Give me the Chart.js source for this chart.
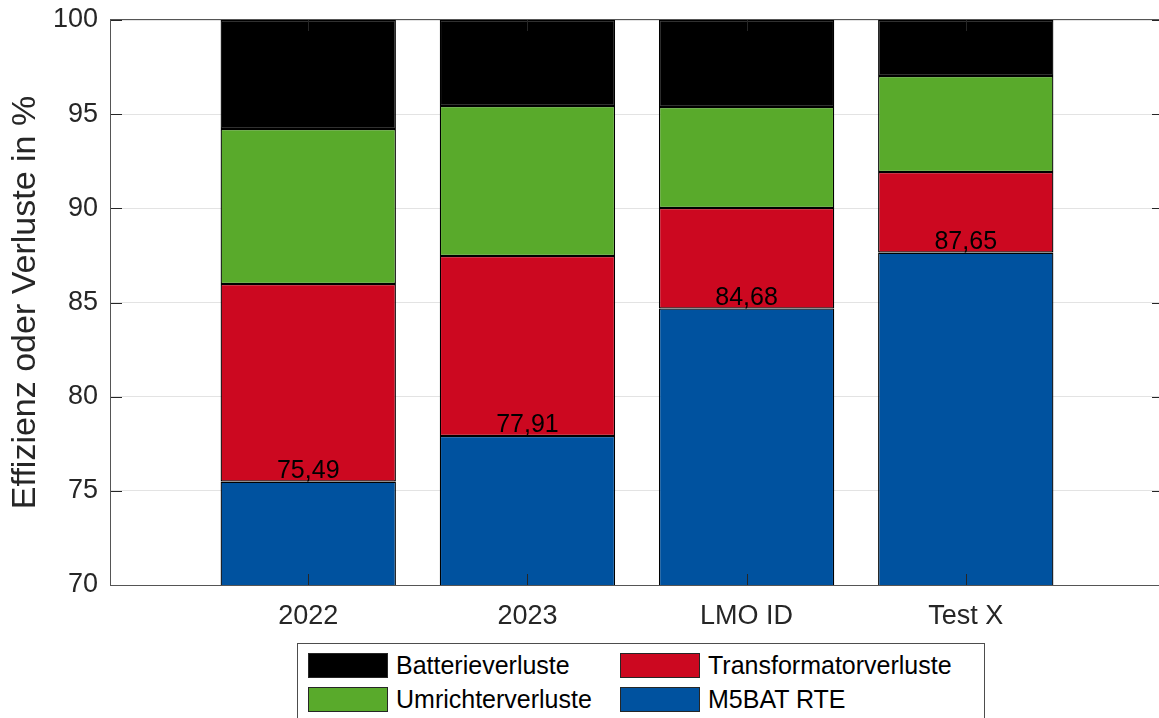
<!DOCTYPE html>
<html>
<head>
<meta charset="utf-8">
<script src="https://cdn.jsdelivr.net/npm/chart.js@4"></script>
<style>
    html, body { margin: 0; padding: 0; background: #fff; overflow: hidden; }
    #wrap { position: relative; width: 1175px; height: 718px; }
    #legend {
        position: absolute; left: 297px; top: 643px; width: 686px; height: 90px;
        border: 1px solid #4d4d4d; background: #fff;
        font-family: 'Liberation Sans', Arial, sans-serif; font-size: 25px; color: #000;
    }
    .item { position: absolute; display: flex; align-items: center; height: 27px; }
    .swatch { width: 78px; height: 23px; border: 1px solid #262626; margin-right: 8px; }
</style>
</head>
<body>
<div id="wrap">
    <canvas id="chart" width="1175" height="718"></canvas>
    <div id="legend"></div>
</div>
<script>
const categories = ['2022', '2023', 'LMO ID', 'Test X'];
const rte = [75.49, 77.91, 84.68, 87.65];
const transformator = [10.49, 9.56, 5.34, 4.28];
const umrichter = [8.23, 7.96, 5.36, 5.10];
const batterie = [5.79, 4.57, 4.62, 2.97];
const yTicks = [70, 75, 80, 85, 90, 95, 100];

const colors = {
    blue: '#00529f',
    red: '#cc0820',
    green: '#59aa2b',
    black: '#000000',
    axis: '#262626',
    grid: '#e3e3e3'
};

const font = "'Liberation Sans', Arial, sans-serif";

function points(arr) {
    return arr.map((v, i) => ({ x: i, y: v }));
}

const series = [
    { label: 'M5BAT RTE', data: rte, color: colors.blue },
    { label: 'Transformatorverluste', data: transformator, color: colors.red },
    { label: 'Umrichterverluste', data: umrichter, color: colors.green },
    { label: 'Batterieverluste', data: batterie, color: colors.black }
];

// MATLAB style box with inward ticks + value labels on the blue bars
const axesBox = {
    id: 'axesBox',
    afterDatasetsDraw(chart) {
        const { ctx, chartArea: a, scales: { x, y } } = chart;
        const tick = 11;
        ctx.save();

        // value labels
        ctx.fillStyle = '#000';
        ctx.font = '25px ' + font;
        ctx.textAlign = 'center';
        ctx.textBaseline = 'alphabetic';
        rte.forEach((v, i) => {
            ctx.fillText(v.toFixed(2).replace('.', ','), x.getPixelForValue(i), y.getPixelForValue(v) - 4);
        });

        ctx.strokeStyle = colors.axis;
        ctx.lineWidth = 1;
        ctx.beginPath();
        yTicks.forEach(t => {
            const py = Math.round(y.getPixelForValue(t)) + 0.5;
            ctx.moveTo(a.left, py); ctx.lineTo(a.left + tick, py);
            ctx.moveTo(a.right, py); ctx.lineTo(a.right - tick, py);
        });
        categories.forEach((_, i) => {
            const px = Math.round(x.getPixelForValue(i)) + 0.5;
            ctx.moveTo(px, a.bottom); ctx.lineTo(px, a.bottom - tick);
            ctx.moveTo(px, a.top); ctx.lineTo(px, a.top + tick);
        });
        ctx.stroke();

        ctx.strokeStyle = '#555';
        ctx.strokeRect(Math.round(a.left) - 0.5, Math.round(a.top) - 0.5, Math.round(a.right - a.left) + 1, Math.round(a.bottom - a.top) + 1);
        ctx.restore();
    }
};

const chart = new Chart(document.getElementById('chart'), {
    type: 'bar',
    data: {
        datasets: series.map(s => ({
            label: s.label,
            data: points(s.data),
            backgroundColor: s.color,
            borderColor: '#000',
            borderWidth: 1.3,
            borderSkipped: false,
            categoryPercentage: 0.8,
            barPercentage: 1.0
        }))
    },
    options: {
        responsive: false,
        animation: false,
        layout: { padding: { left: 0, right: 12, top: 20, bottom: 0 } },
        plugins: {
            legend: { display: false },
            tooltip: { enabled: false }
        },
        scales: {
            x: {
                type: 'linear',
                stacked: true,
                offset: false,
                min: -0.9,
                max: 3.9,
                afterBuildTicks: s => { s.ticks = categories.map((_, i) => ({ value: i })); },
                afterFit: s => { s.height = 133; s.paddingLeft = 0; s.paddingRight = 0; },
                grid: { display: false, drawTicks: false },
                border: { display: false },
                ticks: {
                    autoSkip: false,
                    maxRotation: 0,
                    padding: 15,
                    color: colors.axis,
                    font: { family: font, size: 27 },
                    callback: v => categories[v]
                }
            },
            y: {
                stacked: true,
                min: 70,
                max: 100,
                afterBuildTicks: s => { s.ticks = yTicks.map(v => ({ value: v })); },
                afterFit: s => { s.width = 111; s.paddingTop = 0; s.paddingBottom = 0; },
                grid: { color: colors.grid, drawTicks: false },
                border: { display: false },
                ticks: {
                    padding: 13,
                    color: colors.axis,
                    font: { family: font, size: 27 }
                },
                title: {
                    display: true,
                    text: 'Effizienz oder Verluste in %',
                    color: colors.axis,
                    padding: { top: 5, bottom: 0 },
                    font: { family: font, size: 34 }
                }
            }
        }
    },
    plugins: [axesBox]
});

// legend: two columns, top series first
const legend = document.getElementById('legend');
const order = series.slice().reverse();
order.forEach((s, i) => {
    const item = document.createElement('div');
    item.className = 'item';
    item.style.left = (i < 2 ? 10 : 322) + 'px';
    item.style.top = (i % 2 === 0 ? 8 : 42) + 'px';
    item.innerHTML = `<div class="swatch" style="background:${s.color}"></div><span>${s.label}</span>`;
    legend.appendChild(item);
});
</script>
</body>
</html>
